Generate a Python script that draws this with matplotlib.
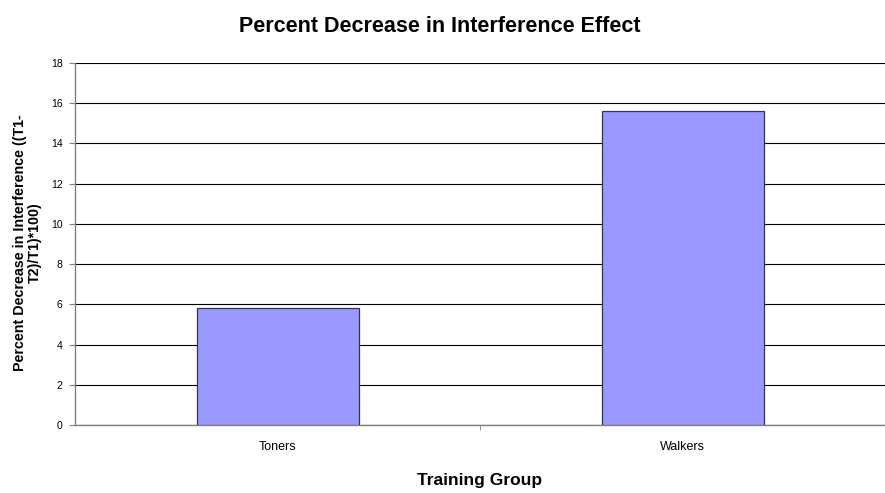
import matplotlib
matplotlib.use("Agg")
import matplotlib.pyplot as plt

categories = ["Toners", "Walkers"]
values = [5.8, 15.6]
yticks = [0, 2, 4, 6, 8, 10, 12, 14, 16, 18]

plt.rcParams['font.family'] = ['Liberation Sans', 'DejaVu Sans']

W, H = 885, 493
fig = plt.figure(figsize=(W / 100, H / 100), dpi=100)
ax = fig.add_axes([75 / W, 1 - 425 / H, (885 - 75) / W, (425 - 63) / H])

x = list(range(len(categories)))
ax.bar(x, values, width=0.4, color="#9999FF", edgecolor="#333355", linewidth=0.9, zorder=3)

ax.set_xlim(-0.5, len(categories) - 0.5)
ax.set_ylim(0, 18)
ax.set_yticks(yticks)
ax.set_yticklabels([str(t) for t in yticks], fontsize=7.5)
ax.yaxis.grid(True, color="black", linewidth=0.8, zorder=0)
ax.set_axisbelow(True)

ax.set_xticks(x)
ax.set_xticklabels(categories, fontsize=9)
ax.tick_params(axis='x', length=0, pad=11.5)
ax.tick_params(axis='y', length=4, color="#808080", pad=5)
# category boundary tick marks
ax.set_xticks([i + 0.5 for i in range(len(categories) - 1)], minor=True)
ax.tick_params(axis='x', which='minor', length=3.5, color="#808080")

for s in ["top", "right"]:
    ax.spines[s].set_visible(False)
ax.spines["left"].set_color("#808080")
ax.spines["bottom"].set_color("#808080")
ax.spines["left"].set_linewidth(1.0)
ax.spines["bottom"].set_linewidth(1.0)

fig.text(440 / W, 1 - 32.5 / H, "Percent Decrease in Interference Effect",
         ha="center", va="baseline", fontsize=15.5, fontweight="bold")
fig.text(480 / W, 1 - 484.5 / H, "Training Group", ha="center", va="baseline",
         fontsize=12.5, fontweight="bold")
fig.text(27.5 / W, 1 - 243 / H, "Percent Decrease in Interference ((T1-\nT2)/T1)*100)",
         ha="center", va="center", rotation=90, fontsize=10.3, fontweight="bold",
         linespacing=1.0)

fig.savefig("out.png", dpi=100, facecolor="white")
